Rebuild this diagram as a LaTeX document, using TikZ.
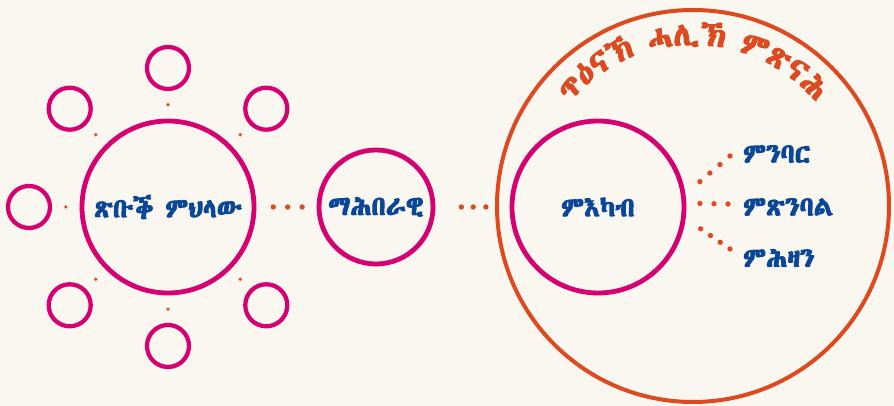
\documentclass[tikz,border=0pt]{standalone}
\usepackage{fontspec}
\usepackage{tikz}
\usetikzlibrary{calc}
\usetikzlibrary{decorations.text}
\IfFontExistsTF{Abyssinica SIL}
  {\newfontfamily\ethfont{Abyssinica SIL}[AutoFakeBold = 4]}
  {\IfFontExistsTF{FreeSerif}
    {\newfontfamily\ethfont{FreeSerif}[AutoFakeBold = 4]}
    {\newfontfamily\ethfont{DejaVu Sans}[AutoFakeBold = 4]}}
\definecolor{mmagenta}{rgb}{0.84, 0, 0.44}
\definecolor{morange}{rgb}{0.87, 0.29, 0.12}
\definecolor{mnavy}{rgb}{0.04, 0.28, 0.6}
\definecolor{mcream}{rgb}{0.98, 0.97, 0.94}
\tikzset{ring/.style = {draw = mmagenta, circle, inner sep = 0, line width = 3.6pt}}
\tikzset{satring/.style = {draw = mmagenta, circle, inner sep = 0, line width = 3.2pt, minimum size = 31.5pt}}
\tikzset{bigdot/.style = {fill = morange, circle, inner sep = 0, minimum size = 4pt}}
\tikzset{smalldot/.style = {fill = morange, circle, inner sep = 0, minimum size = 2.8pt}}
\tikzset{lbl/.style = {text = mnavy, font = \ethfont\bfseries\fontsize{20}{22}\selectfont}}

\begin{document}
\begin{tikzpicture}[x = 0.75pt, y = 0.75pt]
      \fill [mcream] (0, 0) rectangle (894, 406);
      \useasboundingbox (0, 0) rectangle (894, 406);

      \node [ring, lbl, minimum size = 129pt] (health) at (168, 199) {ጽቡቕ ምህላው};
      \foreach \a [count = \i, evaluate = \a as \b using int(\a + 180)] in {45, 90, ..., 315} {
        \node [satring] (sat\i) at ($(health.center) + (\a:139)$) {};
        \node [smalldot] (sdot\i) at ($(health.\a)!0.5!(sat\i.\b)$) {};
      }

      \node [ring, lbl, minimum size = 85.5pt] (social) at (376, 199) {ማሕበራዊ};
      \node [ring, lbl, minimum size = 129pt] (gather) at (598, 199) {ምእካብ};
      \node [draw = morange, circle, inner sep = 0, line width = 3pt, minimum size = 294pt] (care) at (693, 200) {};

      \foreach \t in {0.28, 0.52, 0.76} \node [bigdot] at ($(health.east)!\t!(social.west)$) {};
      \foreach \t in {0.35, 0.51, 0.68} \node [bigdot] at ($(social.east)!\t!(gather.west)$) {};

      \node [lbl, anchor = west, inner sep = 0] (live) at (743, 252) {ምንባር};
      \node [lbl, anchor = west, inner sep = 0] (enjoy) at (743, 199) {ምጽንባል};
      \node [lbl, anchor = west, inner sep = 0] (grieve) at (743, 148) {ምሕዛን};

      \foreach \t in {0, 0.333, 0.667, 1} {
        \node [bigdot] at ($($(gather.center) + (14:105)$)!\t!($(live.west) + (-13, -2)$)$) {};
        \node [bigdot] at ($($(gather.center) + (-12:105)$)!\t!($(grieve.west) + (-13, 9)$)$) {};
      }
      \foreach \t in {0, 0.5, 1} \node [bigdot] at ($($(gather.center) + (2:102)$)!\t!($(enjoy.west) + (-15, 3)$)$) {};

      \path [decorate, decoration = {text along path, text align = center, text color = morange,
        text = {|\ethfont\bfseries\fontsize{24}{26}\selectfont|ጥዕናኽ ሓሊኽ ምጽናሕ}}]
        ($(care.center) + (180:161)$) arc [start angle = 180, end angle = 0, radius = 161];
    \end{tikzpicture}
\end{document}
